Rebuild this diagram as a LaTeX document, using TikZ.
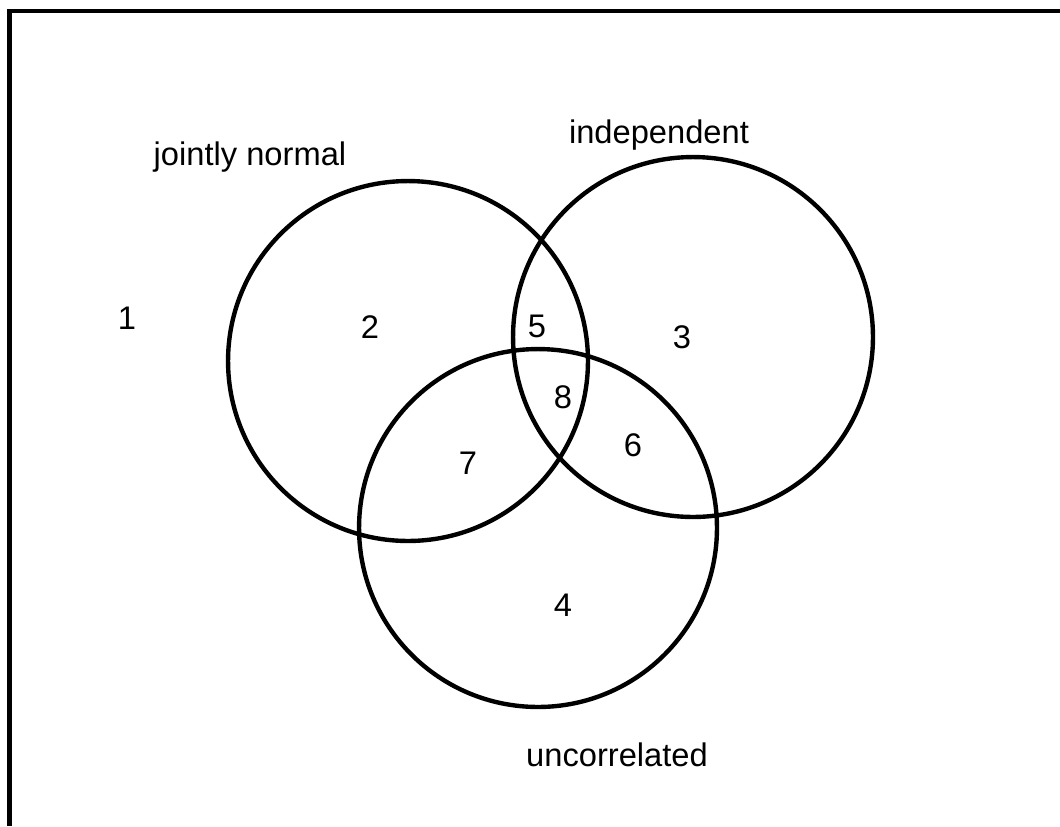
\documentclass[tikz,border=0pt]{standalone}
\usepackage{fontspec}
\setmainfont{Liberation Sans}
\usepackage{tikz}
\usetikzlibrary{positioning}
\tikzset{
  set/.style={circle, draw=black, line width=2.5pt, inner sep=0pt},
  setname/.style={anchor=base, inner sep=0pt, font=\fontsize{18.6}{22}\selectfont},
  region/.style={inner sep=0pt, font=\fontsize{18.6}{22}\selectfont},
  frame/.style={line width=2.6pt, color=black}
}
\begin{document}
\begin{tikzpicture}[x=0.02cm, y=-0.02cm]
  \useasboundingbox (0,0) rectangle (1060,826);
  \draw[frame] (1060,11) -- (9.5,11) -- (9.5,826);

  \node[set, minimum size=7.2cm] (normal) at (408,361) {};
  \node[set, minimum size=7.2cm] (indep) at (693,337) {};
  \node[set, minimum size=7.16cm] (uncorr) at (538,528) {};

  \node[setname] (normallbl) at (250,165) {jointly normal};
  \node[setname] (indeplbl) at (659,143) {independent};
  \node[setname] (uncorrlbl) at (617,766) {uncorrelated};

  \node[region] (r1) at (127,318) {1};
  \node[region] (r2) at (370,327) {2};
  \node[region] (r3) at (682,337) {3};
  \node[region] (r4) at (563,605) {4};
  \node[region] (r5) at (537,326) {5};
  \node[region] (r6) at (633,445) {6};
  \node[region] (r7) at (468,463) {7};
  \node[region] (r8) at (563,397) {8};
\end{tikzpicture}
\end{document}
